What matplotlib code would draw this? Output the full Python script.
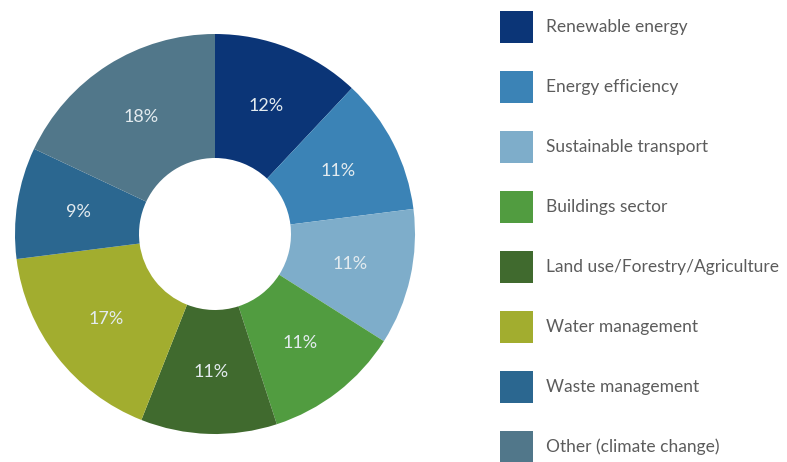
import matplotlib
matplotlib.use('Agg')
import matplotlib.pyplot as plt

# share of each sector in percent
categories = ['Renewable energy', 'Energy efficiency', 'Sustainable transport',
              'Buildings sector', 'Land use/Forestry/Agriculture',
              'Water management', 'Waste management', 'Other (climate change)']
shares = [12, 11, 11, 11, 11, 17, 9, 18]
colors = ['#0b3577', '#3b83b6', '#7eadca', '#519c40', '#406a2e',
          '#a2ad2f', '#2b6790', '#51778a']

plt.rcParams['font.family'] = ['Lato', 'DejaVu Sans']

fig = plt.figure(figsize=(7.87, 4.62), dpi=100)
ax = fig.add_axes([15/787, 28/462, 400/787, 400/462])

wedges, texts, autotexts = ax.pie(
    shares, colors=colors, startangle=90, counterclock=False,
    radius=1.0, wedgeprops=dict(width=0.62, linewidth=0),
    autopct='%d%%', pctdistance=0.69,
    textprops=dict(color='#e3ebef', fontsize=13))
ax.set_xlim(-1, 1)
ax.set_ylim(-1, 1)
ax.axis('off')

leg = fig.legend(wedges, categories, loc='upper left',
                 bbox_to_anchor=(493/787, 1 - 4/462), frameon=False,
                 fontsize=12.5, handlelength=1.9, handleheight=2.46,
                 labelspacing=1.61, handletextpad=0.75, borderaxespad=0)
for t in leg.get_texts():
    t.set_color('#5c5c5c')

fig.savefig('out.png', dpi=100)
